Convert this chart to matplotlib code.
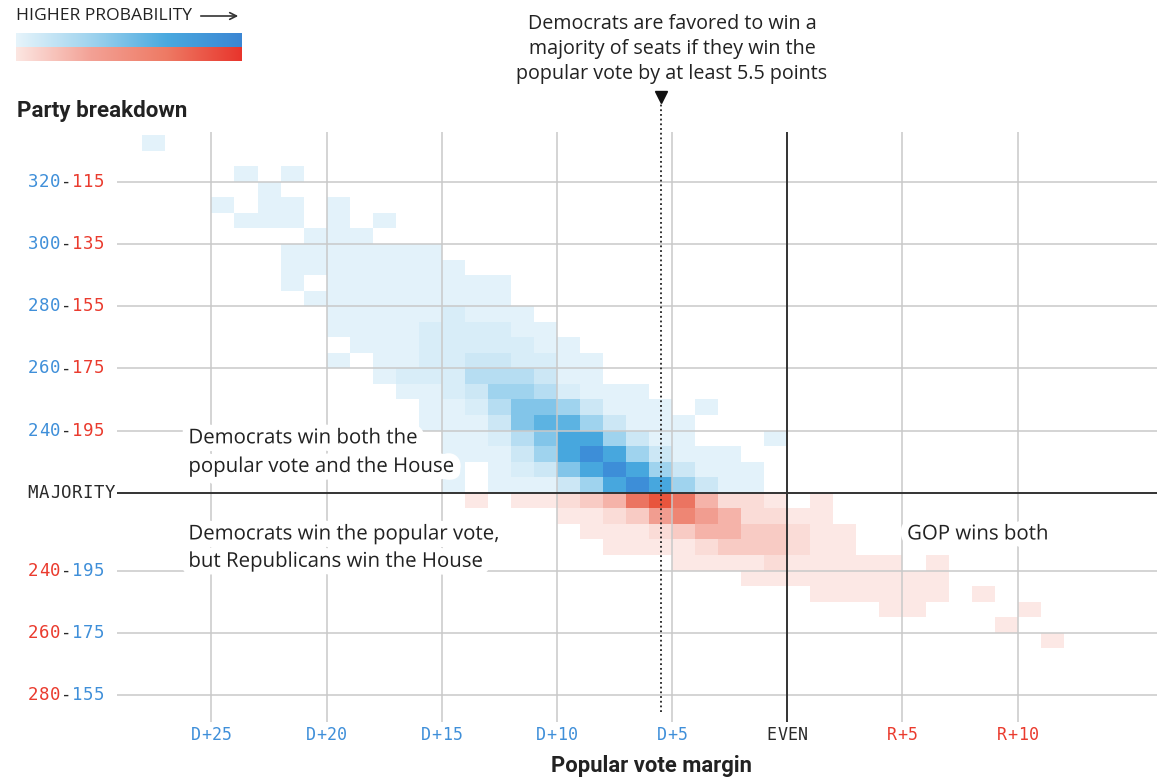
import numpy as np
import matplotlib.pyplot as plt
import matplotlib.patheffects as pe
import matplotlib.transforms as mtransforms
from matplotlib.colors import ListedColormap, LinearSegmentedColormap
from matplotlib.patches import FancyArrowPatch

# x: popular vote margin, GOP minus Dem (D+25 -> -25, R+10 -> 10)
x_ticks = [-25, -20, -15, -10, -5, 0, 5, 10]
x_labels = ['D+25', 'D+20', 'D+15', 'D+10', 'D+5', 'EVEN', 'R+5', 'R+10']

# y: upper half = Dem seats - 220, lower half = -(GOP seats - 215)
dem_ticks = [100, 80, 60, 40, 20]
dem_labels = [('320', '115'), ('300', '135'), ('280', '155'), ('260', '175'), ('240', '195')]
gop_ticks = [-25, -45, -65]
gop_labels = [('240', '195'), ('260', '175'), ('280', '155')]

threshold = -5.5  # Dems favored above D+5.5

# probability level of each 1-point x 5-seat cell (0 = empty)
# (row bottom, first column, levels)
dem_cells = [
    (110, -28, [1]),
    (100, -24, [1, 0, 1]),
    (95, -23, [1]),
    (90, -25, [1, 0, 1, 1, 0, 1]),
    (85, -24, [1, 1, 1, 0, 1, 0, 1]),
    (80, -21, [1, 1, 1]),
    (75, -22, [1, 1, 1, 1, 1, 1, 1]),
    (70, -22, [1, 1, 1, 1, 1, 1, 1, 1]),
    (65, -22, [1, 0, 1, 1, 1, 1, 1, 1, 1, 1]),
    (60, -21, [1, 1, 1, 1, 1, 1, 1, 1, 1]),
    (55, -20, [1, 1, 1, 1, 1, 2, 1, 1, 1]),
    (50, -20, [1, 1, 1, 1, 2, 2, 2, 2, 1, 1]),
    (45, -19, [1, 1, 1, 2, 2, 2, 2, 2, 1, 1]),
    (40, -20, [1, 0, 1, 1, 2, 2, 3, 3, 2, 2, 1, 1]),
    (35, -18, [1, 2, 2, 2, 4, 4, 4, 3, 1, 1]),
    (30, -17, [1, 1, 2, 3, 5, 5, 4, 2, 1, 1, 1]),
    (25, -16, [1, 1, 2, 4, 6, 6, 5, 3, 1, 1, 1, 0, 1]),
    (20, -16, [1, 1, 1, 3, 6, 7, 7, 5, 3, 1, 1, 1]),
    (15, -15, [1, 1, 2, 4, 6, 8, 8, 5, 3, 1, 1, 0, 0, 0, 1]),
    (10, -15, [1, 1, 1, 3, 5, 8, 9, 8, 5, 3, 1, 1, 1]),
    (5, -15, [1, 0, 1, 2, 3, 6, 8, 9, 8, 5, 3, 1, 1, 1]),
    (0, -15, [1, 0, 1, 1, 1, 3, 5, 8, 9, 8, 5, 3, 1, 1]),
]
# (GOP seats above 215 at row top, first column, levels)
gop_cells = [
    (0, -14, [1, 0, 1, 1, 2, 3, 4, 7, 8, 7, 4, 2, 2, 1, 0, 1]),
    (5, -10, [1, 1, 2, 3, 5, 6, 5, 4, 2, 2, 1, 1]),
    (10, -9, [1, 1, 1, 2, 3, 4, 4, 3, 3, 2, 1, 1]),
    (15, -8, [1, 1, 1, 1, 2, 3, 3, 3, 2, 1, 1]),
    (20, -5, [1, 1, 1, 1, 2, 1, 1, 1, 1, 1, 0, 1]),
    (25, -2, [1, 1, 1, 1, 1, 1, 1, 1, 1]),
    (30, 1, [1, 1, 1, 1, 1, 1, 0, 1]),
    (35, 4, [1, 1, 0, 0, 0, 0, 1]),
    (40, 9, [1]),
    (45, 11, [1]),
]

blue_levels = ['#e3f2fa', '#d8edf8', '#cce7f5', '#b6ddf2', '#9fd3ee',
               '#82c5e9', '#5cb3e2', '#47a7de', '#3d8ed8']
red_levels = ['#fce8e5', '#fadcd7', '#f8cbc4', '#f5b3a9', '#f19d90',
              '#ee8674', '#eb7461', '#e8553d']

W, H = 1157, 777
fig = plt.figure(figsize=(W / 100, H / 100), dpi=100)
ax = fig.add_axes([117 / W, 1 - 722 / H, (W - 117) / W, (722 - 132) / H])
ax.set_xlim(-29.1, 16.05)
ax.set_ylim(-73.7, 116.0)
ax.axis('off')

# build grids
dem_x = np.arange(-28, 1)
dem_y = np.arange(0, 120, 5)
dem_z = np.zeros((len(dem_y) - 1, len(dem_x) - 1))
for row, start, vals in dem_cells:
    for j, v in enumerate(vals):
        dem_z[row // 5, start + 28 + j] = v
gop_x = np.arange(-15, 14)
gop_y = -np.arange(0, 55, 5)
gop_z = np.zeros((len(gop_y) - 1, len(gop_x) - 1))
for row, start, vals in gop_cells:
    for j, v in enumerate(vals):
        gop_z[row // 5, start + 15 + j] = v

ax.pcolormesh(dem_x, dem_y, np.ma.masked_equal(dem_z, 0), cmap=ListedColormap(blue_levels),
              vmin=0.5, vmax=9.5, antialiased=False, linewidth=0, zorder=1)
ax.pcolormesh(gop_x, gop_y, np.ma.masked_equal(gop_z, 0), cmap=ListedColormap(red_levels),
              vmin=0.5, vmax=8.5, antialiased=False, linewidth=0, zorder=1)

# grid
grid_kw = dict(color='#c9c9c9', lw=1.3, alpha=0.85, zorder=3)
for x in x_ticks:
    if x != 0:
        ax.axvline(x, **grid_kw)
for y in dem_ticks + gop_ticks:
    ax.axhline(y, **grid_kw)
ax.axvline(0, color='#333333', lw=1.4, zorder=4)
ax.axhline(0, color='#333333', lw=1.4, zorder=4)

# threshold marker
ax.plot([threshold, threshold], [-70.5, 125.6], color='#222222', lw=1.3,
        ls=(0, (1, 1.6)), clip_on=False, zorder=5)
ax.plot(threshold, 127.4, marker='v', ms=8, color='#111111', clip_on=False, zorder=5)

# tick labels (monospace, per character)
mono = 'DejaVu Sans Mono'
blue_t, red_t, dark_t = '#3f8fd9', '#ea3b2e', '#2a2a2a'
ytrans = mtransforms.blended_transform_factory(fig.transFigure, ax.transData)


def mono_label(parts, y, right_px=104.5, pitch=11.0):
    chars = [(ch, col) for txt, col in parts for ch in txt]
    n = len(chars)
    for i, (ch, col) in enumerate(chars):
        xc = right_px - pitch * (n - i) + pitch / 2
        ax.text(xc / W, y, ch, transform=ytrans, ha='center', va='center',
                family=mono, fontsize=12.5, color=col)


for y, (d, r) in zip(dem_ticks, dem_labels):
    mono_label([(d, blue_t), ('-', dark_t), (r, red_t)], y)
for y, (r, d) in zip(gop_ticks, gop_labels):
    mono_label([(r, red_t), ('-', dark_t), (d, blue_t)], y)
mono_label([('MAJORITY', dark_t)], 0, right_px=115.5)

xtrans = mtransforms.blended_transform_factory(ax.transData, fig.transFigure)
for x, lab in zip(x_ticks, x_labels):
    col = blue_t if lab.startswith('D') else (red_t if lab.startswith('R') else dark_t)
    n = len(lab)
    for i, ch in enumerate(lab):
        tr = mtransforms.offset_copy(xtrans, fig=fig, x=10.5 * (i - (n - 1) / 2), units='dots')
        ax.text(x, 1 - 735 / H, ch, transform=tr, ha='center', va='center',
                family=mono, fontsize=12, color=col)

body = 'Open Sans'
txt_kw = dict(family=body, fontsize=14.7, color='#222222', va='center', ha='left', zorder=6,
              path_effects=[pe.withStroke(linewidth=11, foreground='white')])
ax.text(-26.0, 17.5, 'Democrats win both the', **txt_kw)
ax.text(-26.0, 8.3, 'popular vote and the House', **txt_kw)
ax.text(-26.0, -13.4, 'Democrats win the popular vote,', **txt_kw)
ax.text(-26.0, -22.2, 'but Republicans win the House', **txt_kw)
ax.text(5.2, -13.4, 'GOP wins both', **txt_kw)

for i, line in enumerate(['Democrats are favored to win a', 'majority of seats if they win the',
                          'popular vote by at least 5.5 points']):
    fig.text(672 / W, 1 - (24 + 25 * i) / H, line, family=body, fontsize=14.2,
             color='#222222', ha='center', va='center')

# headings
fig.text(17 / W, 1 - 111 / H, 'Party breakdown', family='Roboto', fontweight='bold',
         fontsize=16.1, color='#222222', va='center', ha='left')
fig.text(651 / W, 1 - 766 / H, 'Popular vote margin', family='Roboto', fontweight='bold',
         fontsize=15.8, color='#222222', va='center', ha='center')

# probability key
fig.text(16 / W, 1 - 16 / H, 'HIGHER PROBABILITY', family=body, fontsize=12.6,
         color='#222222', va='center', ha='left')
fig.add_artist(FancyArrowPatch((198 / W, 1 - 16 / H), (241 / W, 1 - 16 / H),
                               transform=fig.transFigure, arrowstyle='->',
                               mutation_scale=12, lw=1.2, color='#333333'))
grad = np.linspace(0, 1, 256).reshape(1, -1)
blue_key = LinearSegmentedColormap.from_list('bk', ['#e6f4fb', '#9fd3ee', '#4aa9df', '#3b86d3'])
red_key = LinearSegmentedColormap.from_list('rk', ['#fce6e2', '#f3a195', '#ee7a64', '#e8352c'])
for top, cm in [(32.5, blue_key), (46.7, red_key)]:
    kax = fig.add_axes([16 / W, 1 - (top + 14.2) / H, 225 / W, 14.2 / H])
    kax.imshow(grad, aspect='auto', cmap=cm)
    kax.axis('off')

fig.savefig('out.png', dpi=100)
